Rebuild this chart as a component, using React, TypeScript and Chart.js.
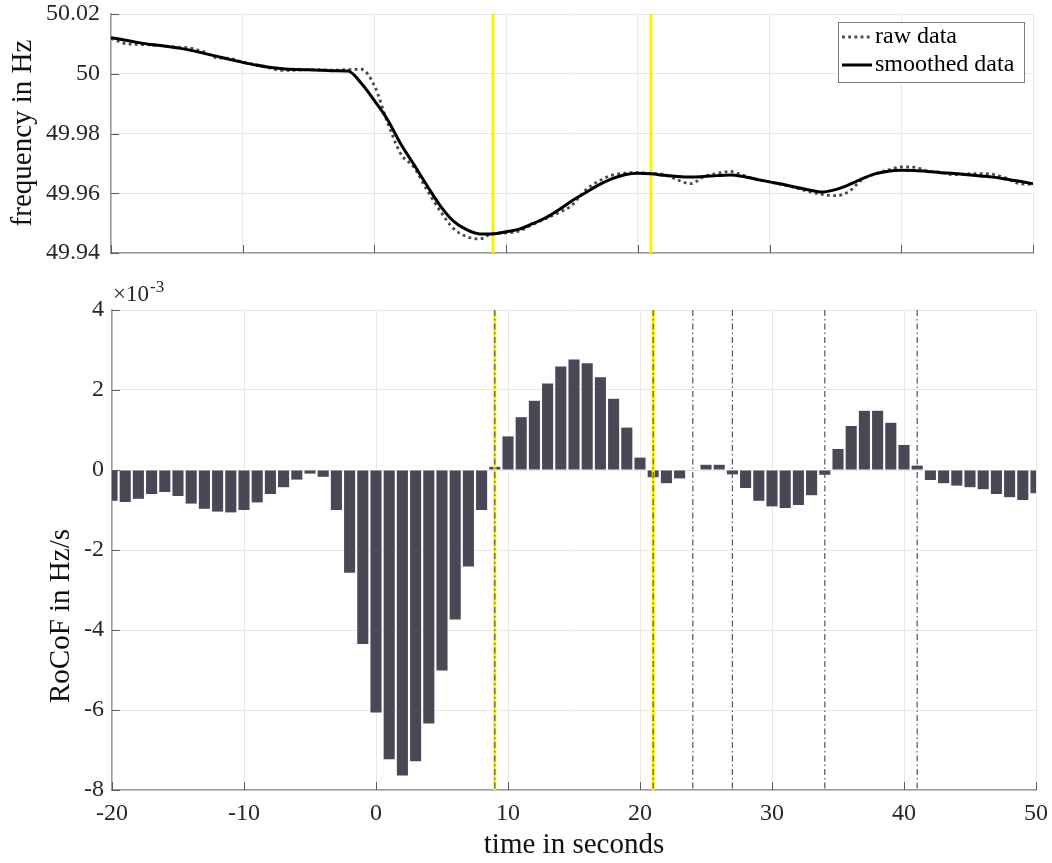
import React, { useEffect, useRef } from "react";
import { Chart, registerables } from "chart.js";

Chart.register(...registerables);

// Time axis in seconds (one sample per second)
const times = [
  -20, -19, -18, -17, -16, -15, -14, -13, -12, -11, -10, -9, -8, -7, -6, -5, -4, -3, -2, -1,
  0, 1, 2, 3, 4, 5, 6, 7, 8, 9, 10, 11, 12, 13, 14, 15, 16, 17, 18, 19,
  20, 21, 22, 23, 24, 25, 26, 27, 28, 29, 30, 31, 32, 33, 34, 35, 36, 37, 38, 39,
  40, 41, 42, 43, 44, 45, 46, 47, 48, 49, 50,
];

// Measured grid frequency in Hz
const rawFreq = [
  50.0118, 50.0102, 50.0098, 50.0097, 50.0093, 50.0089, 50.0086, 50.0074, 50.0054, 50.0051,
  50.004, 50.003, 50.002, 50.0011, 50.0012, 50.0014, 50.0013, 50.0012, 50.0014, 50.0015,
  49.996, 49.9836, 49.9732, 49.9687, 49.961, 49.954, 49.9482, 49.9455, 49.9447, 49.9466,
  49.9467, 49.9474, 49.9495, 49.9515, 49.9535, 49.956, 49.961, 49.964, 49.966, 49.9667,
  49.9669, 49.9666, 49.9663, 49.9645, 49.9632, 49.9655, 49.9666, 49.9673, 49.966, 49.9646,
  49.9638, 49.9628, 49.9618, 49.9605, 49.9596, 49.9592, 49.9605, 49.9645, 49.9665, 49.9678,
  49.9688, 49.9687, 49.9675, 49.967, 49.9662, 49.9665, 49.9666, 49.9663, 49.965, 49.9632,
  49.963,
];

// Filtered frequency in Hz
const smoothFreq = [
  50.0121, 50.0113, 50.0105, 50.0098, 50.0093, 50.0087, 50.0079, 50.0069, 50.0059, 50.0048,
  50.0038, 50.0029, 50.0022, 50.0017, 50.0014, 50.0013, 50.0012, 50.001, 50.0009, 49.9968,
  49.991, 49.9846, 49.9765, 49.9696, 49.9625, 49.9558, 49.9507, 49.9478, 49.9464, 49.9464,
  49.9471, 49.948, 49.9498, 49.9518, 49.9545, 49.9575, 49.9601, 49.9627, 49.9648, 49.9662,
  49.9667, 49.9665, 49.966, 49.9656, 49.9654, 49.9656, 49.9659, 49.9661, 49.9656, 49.9647,
  49.9638, 49.963, 49.962, 49.9611, 49.9604, 49.9612, 49.9628, 49.9648, 49.9665, 49.9674,
  49.9677, 49.9676, 49.9673, 49.9669, 49.9666, 49.9662, 49.9658, 49.9654, 49.9647, 49.964,
  49.9632,
];

// Rate of change of frequency, in units of 1e-3 Hz/s
const rocofMilli = [
  -0.77, -0.8, -0.72, -0.6, -0.55, -0.65, -0.84, -0.97, -1.04, -1.06,
  -1.0, -0.81, -0.6, -0.43, -0.24, -0.09, -0.17, -1.0, -2.57, -4.35,
  -6.06, -7.23, -7.64, -7.28, -6.34, -5.01, -3.74, -2.41, -1.0, 0.08,
  0.84, 1.32, 1.73, 2.16, 2.59, 2.76, 2.67, 2.32, 1.78, 1.06,
  0.31, -0.18, -0.33, -0.21, -0.01, 0.13, 0.13, -0.11, -0.45, -0.77,
  -0.91, -0.95, -0.875, -0.63, -0.12, 0.525, 1.1, 1.48, 1.48, 1.18,
  0.625, 0.11, -0.25, -0.33, -0.39, -0.43, -0.48, -0.6, -0.68, -0.75,
  -0.58,
];

// Window boundaries (yellow) and event instants (dash-dot), in seconds
const windowMarks = [9, 21];
const eventMarks = [9, 21, 24, 27, 34, 41];

const FAMILY = "'Liberation Serif', 'Times New Roman', serif";
const tickFont = { family: FAMILY, size: 24 };
const titleFont = { family: FAMILY, size: 29 };
const TICK_COLOR = "#262626";
const GRID_COLOR = "#e8e8e8";
const AXIS_COLOR = "#9a9a9a";

type MarkLine = { x: number; color: string; width: number; dash?: number[] };

function strokeMarks(chart: any, lines: MarkLine[]) {
  const { ctx, chartArea: a, scales } = chart;
  ctx.save();
  ctx.beginPath();
  ctx.rect(a.left, a.top, a.right - a.left, a.bottom - a.top);
  ctx.clip();
  for (const l of lines) {
    const px = scales.x.getPixelForValue(l.x);
    ctx.beginPath();
    ctx.strokeStyle = l.color;
    ctx.lineWidth = l.width;
    ctx.setLineDash(l.dash || []);
    ctx.moveTo(px, a.top);
    ctx.lineTo(px, a.bottom);
    ctx.stroke();
  }
  ctx.restore();
}

// Vertical reference lines, either under or over the datasets
const markLines = {
  id: "markLines",
  beforeDatasetsDraw(chart: any, _a: any, opts: any) {
    if (opts.below) strokeMarks(chart, opts.below);
  },
  afterDatasetsDraw(chart: any, _a: any, opts: any) {
    if (opts.above) strokeMarks(chart, opts.above);
  },
};

// Tick marks pointing into the plot area
const inwardTicks = {
  id: "inwardTicks",
  afterDraw(chart: any, _a: any, opts: any) {
    const { ctx, chartArea: a, scales } = chart;
    const len = opts.length ?? 8;
    ctx.save();
    ctx.strokeStyle = opts.color ?? "#606060";
    ctx.lineWidth = 1;
    ctx.beginPath();
    for (const t of scales.x.ticks) {
      const p = Math.round(scales.x.getPixelForValue(t.value)) + 0.5;
      ctx.moveTo(p, a.bottom);
      ctx.lineTo(p, a.bottom - len);
    }
    for (const t of scales.y.ticks) {
      const p = Math.round(scales.y.getPixelForValue(t.value)) + 0.5;
      ctx.moveTo(a.left, p);
      ctx.lineTo(a.left + len, p);
    }
    ctx.stroke();
    ctx.restore();
  },
};

// Free-standing captions: rotated axis titles and the exponent note
const captions = {
  id: "captions",
  afterDraw(chart: any, _a: any, opts: any) {
    const { ctx } = chart;
    for (const c of opts.items || []) {
      ctx.save();
      ctx.translate(c.x, c.y);
      ctx.rotate(c.rotate || 0);
      ctx.font = c.font;
      ctx.fillStyle = c.color || "#000";
      ctx.textAlign = c.align || "center";
      ctx.textBaseline = "middle";
      ctx.fillText(c.text, 0, 0);
      if (c.sup) {
        const w = ctx.measureText(c.text).width;
        ctx.font = c.supFont;
        ctx.textAlign = "left";
        ctx.fillText(c.sup, w + 1, c.supShift);
      }
      ctx.restore();
    }
  },
};

// Legend drawn as a framed box inside the plot area
const boxedLegend = {
  id: "boxedLegend",
  afterDatasetsDraw(chart: any, _a: any, opts: any) {
    const { ctx, chartArea: a } = chart;
    const x0 = a.right - opts.right - opts.width;
    const y0 = a.top + opts.top;
    ctx.save();
    ctx.fillStyle = "#ffffff";
    ctx.fillRect(x0, y0, opts.width, opts.height);
    ctx.strokeStyle = "#7a7a7a";
    ctx.lineWidth = 1;
    ctx.strokeRect(x0 + 0.5, y0 + 0.5, opts.width, opts.height);
    chart.data.datasets.forEach((ds: any, i: number) => {
      const cy = y0 + opts.firstRow + i * opts.rowGap;
      ctx.beginPath();
      ctx.strokeStyle = ds.borderColor;
      ctx.lineWidth = ds.borderWidth;
      ctx.setLineDash(ds.borderDash || []);
      ctx.moveTo(x0 + opts.pad, cy);
      ctx.lineTo(x0 + opts.pad + opts.sample, cy);
      ctx.stroke();
      ctx.setLineDash([]);
      ctx.font = `24px ${FAMILY}`;
      ctx.fillStyle = "#000";
      ctx.textAlign = "left";
      ctx.textBaseline = "middle";
      ctx.fillText(ds.label, x0 + opts.pad + opts.sample + 3, cy);
    });
    ctx.restore();
  },
};

const trimNum = (v: number | string) => String(+Number(v).toFixed(4));

// Fix the axis box size and drop the label overflow the layout would reserve
const fixHeight = (h: number) => (s: any) => {
  s.height = h;
  s.paddingLeft = 0;
  s.paddingRight = 0;
};
const fixWidth = (w: number) => (s: any) => {
  s.width = w;
  s.paddingTop = 0;
  s.paddingBottom = 0;
};

export default function App() {
  const topRef = useRef<HTMLCanvasElement>(null);
  const botRef = useRef<HTMLCanvasElement>(null);

  useEffect(() => {
    const topChart = new Chart(topRef.current as HTMLCanvasElement, {
      type: "line",
      data: {
        labels: times,
        datasets: [
          {
            label: "raw data",
            data: rawFreq,
            borderColor: "#4a4a4a",
            borderWidth: 2.8,
            borderDash: [2.8, 3.4],
            pointRadius: 0,
            cubicInterpolationMode: "monotone",
            order: 2,
          },
          {
            label: "smoothed data",
            data: smoothFreq,
            borderColor: "#000000",
            borderWidth: 3,
            pointRadius: 0,
            cubicInterpolationMode: "monotone",
            order: 1,
          },
        ],
      },
      options: {
        responsive: false,
        animation: false,
        events: [],
        layout: { padding: { left: 0, right: 19, top: 14, bottom: 17 } },
        plugins: {
          legend: { display: false },
          tooltip: { enabled: false },
          markLines: {
            below: windowMarks.map((x) => ({ x, color: "#fbf200", width: 3 })),
          },
          inwardTicks: { length: 8, color: "#5a5a5a" },
          captions: {
            items: [
              {
                text: "frequency in Hz",
                x: 23,
                y: 133,
                rotate: -Math.PI / 2,
                font: `29px ${FAMILY}`,
                color: "#111",
              },
            ],
          },
          boxedLegend: {
            right: 9,
            top: 8,
            width: 186,
            height: 60,
            pad: 4,
            sample: 30,
            firstRow: 15,
            rowGap: 28,
          },
        } as any,
        scales: {
          x: {
            type: "linear",
            min: -20,
            max: 50,
            ticks: { stepSize: 10, display: false },
            grid: { color: GRID_COLOR, drawTicks: false },
            border: { color: AXIS_COLOR, width: 1.5 },
            afterFit: fixHeight(0),
          },
          y: {
            min: 49.94,
            max: 50.02,
            ticks: {
              stepSize: 0.02,
              padding: 11,
              font: tickFont,
              color: TICK_COLOR,
              callback: (v: any) => trimNum(v),
            },
            grid: { color: GRID_COLOR, drawTicks: false },
            border: { color: AXIS_COLOR, width: 1.5 },
            afterFit: fixWidth(111),
          },
        },
      },
      plugins: [markLines, inwardTicks, captions, boxedLegend],
    });

    const botChart = new Chart(botRef.current as HTMLCanvasElement, {
      type: "bar",
      data: {
        labels: times,
        datasets: [
          {
            label: "RoCoF",
            data: rocofMilli,
            backgroundColor: "#4a4857",
            borderWidth: 0,
            categoryPercentage: 1,
            barPercentage: 0.84,
          },
        ],
      },
      options: {
        responsive: false,
        animation: false,
        events: [],
        layout: { padding: { left: 0, right: 16, top: 40, bottom: 0 } },
        plugins: {
          legend: { display: false },
          tooltip: { enabled: false },
          markLines: {
            above: [
              ...windowMarks.map((x) => ({ x, color: "#fbf200", width: 3 })),
              ...eventMarks.map((x) => ({ x, color: "#555555", width: 1.2, dash: [6, 3, 1.5, 3] })),
            ],
          },
          inwardTicks: { length: 8, color: "#5a5a5a" },
          captions: {
            items: [
              {
                text: "RoCoF in Hz/s",
                x: 61,
                y: 346,
                rotate: -Math.PI / 2,
                font: `29px ${FAMILY}`,
                color: "#111",
              },
              {
                text: "×10",
                x: 113,
                y: 25,
                align: "left",
                font: `23px ${FAMILY}`,
                color: TICK_COLOR,
                sup: "-3",
                supFont: `17px ${FAMILY}`,
                supShift: -7,
              },
            ],
          },
        } as any,
        scales: {
          x: {
            type: "linear",
            min: -20,
            max: 50,
            offset: false,
            ticks: {
              stepSize: 10,
              padding: 9,
              font: tickFont,
              color: TICK_COLOR,
              maxRotation: 0,
              autoSkip: false,
              callback: (v: any) => trimNum(v),
            },
            grid: { color: GRID_COLOR, drawTicks: false, offset: false },
            border: { color: AXIS_COLOR, width: 1.5 },
            title: {
              display: true,
              text: "time in seconds",
              font: titleFont,
              color: "#111",
              padding: 0,
            },
            afterFit: fixHeight(73),
          },
          y: {
            min: -8,
            max: 4,
            ticks: {
              stepSize: 2,
              padding: 8,
              font: tickFont,
              color: TICK_COLOR,
              callback: (v: any) => trimNum(v),
            },
            grid: { color: GRID_COLOR, drawTicks: false },
            border: { color: AXIS_COLOR, width: 1.5 },
            afterFit: fixWidth(112),
          },
        },
      },
      plugins: [markLines, inwardTicks, captions],
    });

    return () => {
      topChart.destroy();
      botChart.destroy();
    };
  }, []);

  return (
    <div
      style={{
        position: "absolute",
        left: 0,
        top: 0,
        width: 1052,
        height: 863,
        background: "#ffffff",
      }}
    >
      <canvas
        ref={topRef}
        width={1052}
        height={270}
        style={{ position: "absolute", left: 0, top: 0, width: 1052, height: 270 }}
      />
      <canvas
        ref={botRef}
        width={1052}
        height={593}
        style={{ position: "absolute", left: 0, top: 270, width: 1052, height: 593 }}
      />
    </div>
  );
}
